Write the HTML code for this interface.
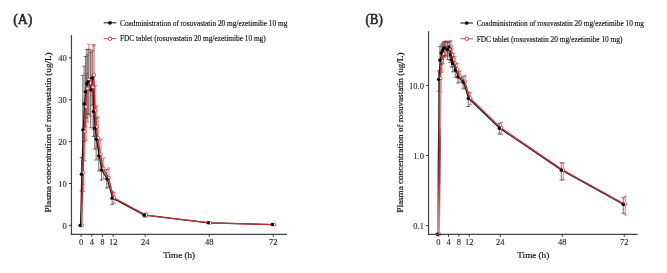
<!DOCTYPE html>
<html><head><meta charset="utf-8"><style>
html,body{margin:0;padding:0;background:#fff;width:667px;height:273px;overflow:hidden}
svg{display:block;will-change:transform}
text{font-family:"Liberation Serif",serif;fill:#222}
.tk{font-size:8.5px;fill:#1a1a1a;stroke:#1a1a1a;stroke-width:0.1px}
.lg{font-size:7.33px;fill:#151515;stroke:#151515;stroke-width:0.15px}
.at{font-size:9.15px;fill:#151515;stroke:#151515;stroke-width:0.2px}
.pl{font-size:14px;font-weight:normal;fill:#2a2a2a;stroke:#2a2a2a;stroke-width:0.6px}
</style></head><body>
<svg width="667" height="273" viewBox="0 0 667 273">
<defs>
<linearGradient id="gb" gradientUnits="userSpaceOnUse" x1="0" y1="234" x2="0" y2="80"><stop offset="0" stop-color="#3a1015" stop-opacity="0"/><stop offset="0.3" stop-color="#3a1015" stop-opacity="0.05"/><stop offset="0.45" stop-color="#3a1015" stop-opacity="0.5"/><stop offset="0.6" stop-color="#3a1015" stop-opacity="0.85"/><stop offset="1" stop-color="#3a1015" stop-opacity="0.85"/></linearGradient>
<linearGradient id="gr" gradientUnits="userSpaceOnUse" x1="0" y1="234" x2="0" y2="80"><stop offset="0" stop-color="#dc9096"/><stop offset="0.15" stop-color="#c8707a"/><stop offset="0.35" stop-color="#9a3a44"/><stop offset="0.55" stop-color="#963842"/><stop offset="0.72" stop-color="#d08a90"/><stop offset="1" stop-color="#d89095"/></linearGradient>
</defs>
<line x1="83.53" y1="153.75" x2="83.53" y2="191.46" stroke="rgba(212,60,68,0.5)" stroke-width="1.4"/>
<line x1="81.73" y1="153.75" x2="85.33" y2="153.75" stroke="rgba(212,60,68,0.5)" stroke-width="1.4"/>
<line x1="81.73" y1="191.46" x2="85.33" y2="191.46" stroke="rgba(212,60,68,0.5)" stroke-width="1.4"/>
<line x1="84.87" y1="102.21" x2="84.87" y2="160.87" stroke="rgba(212,60,68,0.5)" stroke-width="1.4"/>
<line x1="83.07" y1="102.21" x2="86.67" y2="102.21" stroke="rgba(212,60,68,0.5)" stroke-width="1.4"/>
<line x1="83.07" y1="160.87" x2="86.67" y2="160.87" stroke="rgba(212,60,68,0.5)" stroke-width="1.4"/>
<line x1="86.20" y1="73.30" x2="86.20" y2="140.34" stroke="rgba(212,60,68,0.5)" stroke-width="1.4"/>
<line x1="84.40" y1="73.30" x2="88.00" y2="73.30" stroke="rgba(212,60,68,0.5)" stroke-width="1.4"/>
<line x1="84.40" y1="140.34" x2="88.00" y2="140.34" stroke="rgba(212,60,68,0.5)" stroke-width="1.4"/>
<line x1="87.54" y1="54.87" x2="87.54" y2="121.91" stroke="rgba(212,60,68,0.5)" stroke-width="1.4"/>
<line x1="85.74" y1="54.87" x2="89.34" y2="54.87" stroke="rgba(212,60,68,0.5)" stroke-width="1.4"/>
<line x1="85.74" y1="121.91" x2="89.34" y2="121.91" stroke="rgba(212,60,68,0.5)" stroke-width="1.4"/>
<line x1="88.87" y1="44.39" x2="88.87" y2="114.78" stroke="rgba(212,60,68,0.5)" stroke-width="1.4"/>
<line x1="87.07" y1="44.39" x2="90.67" y2="44.39" stroke="rgba(212,60,68,0.5)" stroke-width="1.4"/>
<line x1="87.07" y1="114.78" x2="90.67" y2="114.78" stroke="rgba(212,60,68,0.5)" stroke-width="1.4"/>
<line x1="90.21" y1="49.42" x2="90.21" y2="116.46" stroke="rgba(212,60,68,0.5)" stroke-width="1.4"/>
<line x1="88.41" y1="49.42" x2="92.01" y2="49.42" stroke="rgba(212,60,68,0.5)" stroke-width="1.4"/>
<line x1="88.41" y1="116.46" x2="92.01" y2="116.46" stroke="rgba(212,60,68,0.5)" stroke-width="1.4"/>
<line x1="92.88" y1="44.81" x2="92.88" y2="129.45" stroke="rgba(212,60,68,0.5)" stroke-width="1.4"/>
<line x1="91.08" y1="44.81" x2="94.68" y2="44.81" stroke="rgba(212,60,68,0.5)" stroke-width="1.4"/>
<line x1="91.08" y1="129.45" x2="94.68" y2="129.45" stroke="rgba(212,60,68,0.5)" stroke-width="1.4"/>
<line x1="94.21" y1="44.81" x2="94.21" y2="105.15" stroke="rgba(212,60,68,0.5)" stroke-width="1.4"/>
<line x1="92.41" y1="44.81" x2="96.01" y2="44.81" stroke="rgba(212,60,68,0.5)" stroke-width="1.4"/>
<line x1="92.41" y1="105.15" x2="96.01" y2="105.15" stroke="rgba(212,60,68,0.5)" stroke-width="1.4"/>
<line x1="95.55" y1="85.45" x2="95.55" y2="135.73" stroke="rgba(212,60,68,0.5)" stroke-width="1.4"/>
<line x1="93.75" y1="85.45" x2="97.35" y2="85.45" stroke="rgba(212,60,68,0.5)" stroke-width="1.4"/>
<line x1="93.75" y1="135.73" x2="97.35" y2="135.73" stroke="rgba(212,60,68,0.5)" stroke-width="1.4"/>
<line x1="96.88" y1="105.98" x2="96.88" y2="147.88" stroke="rgba(212,60,68,0.5)" stroke-width="1.4"/>
<line x1="95.08" y1="105.98" x2="98.68" y2="105.98" stroke="rgba(212,60,68,0.5)" stroke-width="1.4"/>
<line x1="95.08" y1="147.88" x2="98.68" y2="147.88" stroke="rgba(212,60,68,0.5)" stroke-width="1.4"/>
<line x1="98.22" y1="116.88" x2="98.22" y2="158.78" stroke="rgba(212,60,68,0.5)" stroke-width="1.4"/>
<line x1="96.42" y1="116.88" x2="100.02" y2="116.88" stroke="rgba(212,60,68,0.5)" stroke-width="1.4"/>
<line x1="96.42" y1="158.78" x2="100.02" y2="158.78" stroke="rgba(212,60,68,0.5)" stroke-width="1.4"/>
<line x1="100.89" y1="139.09" x2="100.89" y2="169.25" stroke="rgba(212,60,68,0.5)" stroke-width="1.4"/>
<line x1="99.09" y1="139.09" x2="102.69" y2="139.09" stroke="rgba(212,60,68,0.5)" stroke-width="1.4"/>
<line x1="99.09" y1="169.25" x2="102.69" y2="169.25" stroke="rgba(212,60,68,0.5)" stroke-width="1.4"/>
<line x1="103.56" y1="157.94" x2="103.56" y2="178.89" stroke="rgba(212,60,68,0.5)" stroke-width="1.4"/>
<line x1="101.76" y1="157.94" x2="105.36" y2="157.94" stroke="rgba(212,60,68,0.5)" stroke-width="1.4"/>
<line x1="101.76" y1="178.89" x2="105.36" y2="178.89" stroke="rgba(212,60,68,0.5)" stroke-width="1.4"/>
<line x1="108.90" y1="168.00" x2="108.90" y2="187.27" stroke="rgba(212,60,68,0.5)" stroke-width="1.4"/>
<line x1="107.10" y1="168.00" x2="110.70" y2="168.00" stroke="rgba(212,60,68,0.5)" stroke-width="1.4"/>
<line x1="107.10" y1="187.27" x2="110.70" y2="187.27" stroke="rgba(212,60,68,0.5)" stroke-width="1.4"/>
<line x1="114.24" y1="192.30" x2="114.24" y2="203.19" stroke="rgba(212,60,68,0.5)" stroke-width="1.4"/>
<line x1="112.44" y1="192.30" x2="116.04" y2="192.30" stroke="rgba(212,60,68,0.5)" stroke-width="1.4"/>
<line x1="112.44" y1="203.19" x2="116.04" y2="203.19" stroke="rgba(212,60,68,0.5)" stroke-width="1.4"/>
<line x1="146.28" y1="213.00" x2="146.28" y2="217.02" stroke="rgba(212,60,68,0.5)" stroke-width="1.4"/>
<line x1="144.48" y1="213.00" x2="148.08" y2="213.00" stroke="rgba(212,60,68,0.5)" stroke-width="1.4"/>
<line x1="144.48" y1="217.02" x2="148.08" y2="217.02" stroke="rgba(212,60,68,0.5)" stroke-width="1.4"/>
<line x1="210.36" y1="222.09" x2="210.36" y2="223.51" stroke="rgba(212,60,68,0.5)" stroke-width="1.4"/>
<line x1="208.56" y1="222.09" x2="212.16" y2="222.09" stroke="rgba(212,60,68,0.5)" stroke-width="1.4"/>
<line x1="208.56" y1="223.51" x2="212.16" y2="223.51" stroke="rgba(212,60,68,0.5)" stroke-width="1.4"/>
<line x1="274.44" y1="224.30" x2="274.44" y2="224.81" stroke="rgba(212,60,68,0.5)" stroke-width="1.4"/>
<line x1="272.64" y1="224.30" x2="276.24" y2="224.30" stroke="rgba(212,60,68,0.5)" stroke-width="1.4"/>
<line x1="272.64" y1="224.81" x2="276.24" y2="224.81" stroke="rgba(212,60,68,0.5)" stroke-width="1.4"/>
<line x1="81.43" y1="157.52" x2="81.43" y2="191.04" stroke="rgba(70,70,70,0.75)" stroke-width="1.0"/>
<line x1="79.63" y1="157.52" x2="83.23" y2="157.52" stroke="rgba(70,70,70,0.75)" stroke-width="1.0"/>
<line x1="79.63" y1="191.04" x2="83.23" y2="191.04" stroke="rgba(70,70,70,0.75)" stroke-width="1.0"/>
<line x1="82.77" y1="75.40" x2="82.77" y2="184.34" stroke="rgba(70,70,70,0.75)" stroke-width="1.0"/>
<line x1="80.97" y1="75.40" x2="84.57" y2="75.40" stroke="rgba(70,70,70,0.75)" stroke-width="1.0"/>
<line x1="80.97" y1="184.34" x2="84.57" y2="184.34" stroke="rgba(70,70,70,0.75)" stroke-width="1.0"/>
<line x1="84.10" y1="66.18" x2="84.10" y2="141.60" stroke="rgba(70,70,70,0.75)" stroke-width="1.0"/>
<line x1="82.30" y1="66.18" x2="85.90" y2="66.18" stroke="rgba(70,70,70,0.75)" stroke-width="1.0"/>
<line x1="82.30" y1="141.60" x2="85.90" y2="141.60" stroke="rgba(70,70,70,0.75)" stroke-width="1.0"/>
<line x1="85.44" y1="56.54" x2="85.44" y2="126.94" stroke="rgba(70,70,70,0.75)" stroke-width="1.0"/>
<line x1="83.64" y1="56.54" x2="87.24" y2="56.54" stroke="rgba(70,70,70,0.75)" stroke-width="1.0"/>
<line x1="83.64" y1="126.94" x2="87.24" y2="126.94" stroke="rgba(70,70,70,0.75)" stroke-width="1.0"/>
<line x1="86.77" y1="49.42" x2="86.77" y2="118.14" stroke="rgba(70,70,70,0.75)" stroke-width="1.0"/>
<line x1="84.97" y1="49.42" x2="88.57" y2="49.42" stroke="rgba(70,70,70,0.75)" stroke-width="1.0"/>
<line x1="84.97" y1="118.14" x2="88.57" y2="118.14" stroke="rgba(70,70,70,0.75)" stroke-width="1.0"/>
<line x1="88.11" y1="49.42" x2="88.11" y2="113.95" stroke="rgba(70,70,70,0.75)" stroke-width="1.0"/>
<line x1="86.31" y1="49.42" x2="89.91" y2="49.42" stroke="rgba(70,70,70,0.75)" stroke-width="1.0"/>
<line x1="86.31" y1="113.95" x2="89.91" y2="113.95" stroke="rgba(70,70,70,0.75)" stroke-width="1.0"/>
<line x1="90.78" y1="52.35" x2="90.78" y2="127.77" stroke="rgba(70,70,70,0.75)" stroke-width="1.0"/>
<line x1="88.98" y1="52.35" x2="92.58" y2="52.35" stroke="rgba(70,70,70,0.75)" stroke-width="1.0"/>
<line x1="88.98" y1="127.77" x2="92.58" y2="127.77" stroke="rgba(70,70,70,0.75)" stroke-width="1.0"/>
<line x1="92.11" y1="50.68" x2="92.11" y2="105.15" stroke="rgba(70,70,70,0.75)" stroke-width="1.0"/>
<line x1="90.31" y1="50.68" x2="93.91" y2="50.68" stroke="rgba(70,70,70,0.75)" stroke-width="1.0"/>
<line x1="90.31" y1="105.15" x2="93.91" y2="105.15" stroke="rgba(70,70,70,0.75)" stroke-width="1.0"/>
<line x1="93.45" y1="86.29" x2="93.45" y2="136.57" stroke="rgba(70,70,70,0.75)" stroke-width="1.0"/>
<line x1="91.65" y1="86.29" x2="95.25" y2="86.29" stroke="rgba(70,70,70,0.75)" stroke-width="1.0"/>
<line x1="91.65" y1="136.57" x2="95.25" y2="136.57" stroke="rgba(70,70,70,0.75)" stroke-width="1.0"/>
<line x1="94.78" y1="107.24" x2="94.78" y2="149.14" stroke="rgba(70,70,70,0.75)" stroke-width="1.0"/>
<line x1="92.98" y1="107.24" x2="96.58" y2="107.24" stroke="rgba(70,70,70,0.75)" stroke-width="1.0"/>
<line x1="92.98" y1="149.14" x2="96.58" y2="149.14" stroke="rgba(70,70,70,0.75)" stroke-width="1.0"/>
<line x1="96.12" y1="118.14" x2="96.12" y2="160.04" stroke="rgba(70,70,70,0.75)" stroke-width="1.0"/>
<line x1="94.32" y1="118.14" x2="97.92" y2="118.14" stroke="rgba(70,70,70,0.75)" stroke-width="1.0"/>
<line x1="94.32" y1="160.04" x2="97.92" y2="160.04" stroke="rgba(70,70,70,0.75)" stroke-width="1.0"/>
<line x1="98.79" y1="140.76" x2="98.79" y2="170.93" stroke="rgba(70,70,70,0.75)" stroke-width="1.0"/>
<line x1="96.99" y1="140.76" x2="100.59" y2="140.76" stroke="rgba(70,70,70,0.75)" stroke-width="1.0"/>
<line x1="96.99" y1="170.93" x2="100.59" y2="170.93" stroke="rgba(70,70,70,0.75)" stroke-width="1.0"/>
<line x1="101.46" y1="160.04" x2="101.46" y2="180.15" stroke="rgba(70,70,70,0.75)" stroke-width="1.0"/>
<line x1="99.66" y1="160.04" x2="103.26" y2="160.04" stroke="rgba(70,70,70,0.75)" stroke-width="1.0"/>
<line x1="99.66" y1="180.15" x2="103.26" y2="180.15" stroke="rgba(70,70,70,0.75)" stroke-width="1.0"/>
<line x1="106.80" y1="169.67" x2="106.80" y2="188.11" stroke="rgba(70,70,70,0.75)" stroke-width="1.0"/>
<line x1="105.00" y1="169.67" x2="108.60" y2="169.67" stroke="rgba(70,70,70,0.75)" stroke-width="1.0"/>
<line x1="105.00" y1="188.11" x2="108.60" y2="188.11" stroke="rgba(70,70,70,0.75)" stroke-width="1.0"/>
<line x1="112.14" y1="191.88" x2="112.14" y2="204.45" stroke="rgba(70,70,70,0.75)" stroke-width="1.0"/>
<line x1="110.34" y1="191.88" x2="113.94" y2="191.88" stroke="rgba(70,70,70,0.75)" stroke-width="1.0"/>
<line x1="110.34" y1="204.45" x2="113.94" y2="204.45" stroke="rgba(70,70,70,0.75)" stroke-width="1.0"/>
<line x1="144.18" y1="213.37" x2="144.18" y2="216.89" stroke="rgba(70,70,70,0.75)" stroke-width="1.0"/>
<line x1="142.38" y1="213.37" x2="145.98" y2="213.37" stroke="rgba(70,70,70,0.75)" stroke-width="1.0"/>
<line x1="142.38" y1="216.89" x2="145.98" y2="216.89" stroke="rgba(70,70,70,0.75)" stroke-width="1.0"/>
<line x1="208.26" y1="222.11" x2="208.26" y2="223.54" stroke="rgba(70,70,70,0.75)" stroke-width="1.0"/>
<line x1="206.46" y1="222.11" x2="210.06" y2="222.11" stroke="rgba(70,70,70,0.75)" stroke-width="1.0"/>
<line x1="206.46" y1="223.54" x2="210.06" y2="223.54" stroke="rgba(70,70,70,0.75)" stroke-width="1.0"/>
<line x1="272.34" y1="224.35" x2="272.34" y2="224.77" stroke="rgba(70,70,70,0.75)" stroke-width="1.0"/>
<line x1="270.54" y1="224.35" x2="274.14" y2="224.35" stroke="rgba(70,70,70,0.75)" stroke-width="1.0"/>
<line x1="270.54" y1="224.77" x2="274.14" y2="224.77" stroke="rgba(70,70,70,0.75)" stroke-width="1.0"/>
<polyline points="80.50,225.40 81.83,174.28 83.17,129.87 84.50,103.89 85.84,91.74 87.17,83.78 88.51,81.68 91.18,90.06 92.52,77.91 93.85,111.43 95.19,128.19 96.52,139.09 99.19,155.85 101.86,170.09 107.20,178.89 112.54,198.16 144.58,215.13 208.66,222.82 272.74,224.56" fill="none" stroke="#1a1a1a" stroke-width="1.2" stroke-linejoin="round"/>
<polyline points="81.70,225.40 83.03,172.61 84.37,131.54 85.70,106.82 87.04,88.39 88.37,79.59 89.71,82.94 92.38,87.13 93.71,74.98 95.05,110.59 96.38,126.94 97.72,137.83 100.39,154.17 103.06,168.42 108.40,177.63 113.74,197.75 145.78,215.01 209.86,222.80 273.94,224.55" fill="none" stroke="#c0303a" stroke-width="1.25" stroke-linejoin="round"/>
<circle cx="82.20" cy="225.40" r="1.45" fill="#fff" stroke="#c0303a" stroke-width="0.8"/>
<circle cx="83.53" cy="172.61" r="1.45" fill="#fff" stroke="#c0303a" stroke-width="0.8"/>
<circle cx="84.87" cy="131.54" r="1.45" fill="#fff" stroke="#c0303a" stroke-width="0.8"/>
<circle cx="86.20" cy="106.82" r="1.45" fill="#fff" stroke="#c0303a" stroke-width="0.8"/>
<circle cx="87.54" cy="88.39" r="1.45" fill="#fff" stroke="#c0303a" stroke-width="0.8"/>
<circle cx="88.87" cy="79.59" r="1.45" fill="#fff" stroke="#c0303a" stroke-width="0.8"/>
<circle cx="90.21" cy="82.94" r="1.45" fill="#fff" stroke="#c0303a" stroke-width="0.8"/>
<circle cx="92.88" cy="87.13" r="1.45" fill="#fff" stroke="#c0303a" stroke-width="0.8"/>
<circle cx="94.21" cy="74.98" r="1.45" fill="#fff" stroke="#c0303a" stroke-width="0.8"/>
<circle cx="95.55" cy="110.59" r="1.45" fill="#fff" stroke="#c0303a" stroke-width="0.8"/>
<circle cx="96.88" cy="126.94" r="1.45" fill="#fff" stroke="#c0303a" stroke-width="0.8"/>
<circle cx="98.22" cy="137.83" r="1.45" fill="#fff" stroke="#c0303a" stroke-width="0.8"/>
<circle cx="100.89" cy="154.17" r="1.45" fill="#fff" stroke="#c0303a" stroke-width="0.8"/>
<circle cx="103.56" cy="168.42" r="1.45" fill="#fff" stroke="#c0303a" stroke-width="0.8"/>
<circle cx="108.90" cy="177.63" r="1.45" fill="#fff" stroke="#c0303a" stroke-width="0.8"/>
<circle cx="114.24" cy="197.75" r="1.45" fill="#fff" stroke="#c0303a" stroke-width="0.8"/>
<circle cx="146.28" cy="215.01" r="1.45" fill="#fff" stroke="#c0303a" stroke-width="0.8"/>
<circle cx="210.36" cy="222.80" r="1.45" fill="#fff" stroke="#c0303a" stroke-width="0.8"/>
<circle cx="274.44" cy="224.55" r="1.45" fill="#fff" stroke="#c0303a" stroke-width="0.8"/>
<circle cx="80.10" cy="225.40" r="1.7" fill="#000"/>
<circle cx="81.43" cy="174.28" r="1.7" fill="#000"/>
<circle cx="82.77" cy="129.87" r="1.7" fill="#000"/>
<circle cx="84.10" cy="103.89" r="1.7" fill="#000"/>
<circle cx="85.44" cy="91.74" r="1.7" fill="#000"/>
<circle cx="86.77" cy="83.78" r="1.7" fill="#000"/>
<circle cx="88.11" cy="81.68" r="1.7" fill="#000"/>
<circle cx="90.78" cy="90.06" r="1.7" fill="#000"/>
<circle cx="92.11" cy="77.91" r="1.7" fill="#000"/>
<circle cx="93.45" cy="111.43" r="1.7" fill="#000"/>
<circle cx="94.78" cy="128.19" r="1.7" fill="#000"/>
<circle cx="96.12" cy="139.09" r="1.7" fill="#000"/>
<circle cx="98.79" cy="155.85" r="1.7" fill="#000"/>
<circle cx="101.46" cy="170.09" r="1.7" fill="#000"/>
<circle cx="106.80" cy="178.89" r="1.7" fill="#000"/>
<circle cx="112.14" cy="198.16" r="1.7" fill="#000"/>
<circle cx="144.18" cy="215.13" r="1.7" fill="#000"/>
<circle cx="208.26" cy="222.82" r="1.7" fill="#000"/>
<circle cx="272.34" cy="224.56" r="1.7" fill="#000"/>
<line x1="71.45" y1="35.1" x2="71.45" y2="234.9" stroke="#444" stroke-width="1.2"/>
<line x1="70.85000000000001" y1="234.3" x2="287.0" y2="234.3" stroke="#444" stroke-width="1.2"/>
<line x1="68.95" y1="225.40" x2="71.45" y2="225.40" stroke="#333" stroke-width="1"/>
<text x="66.85" y="228.80" text-anchor="end" class="tk">0</text>
<line x1="68.95" y1="183.50" x2="71.45" y2="183.50" stroke="#333" stroke-width="1"/>
<text x="66.85" y="186.90" text-anchor="end" class="tk">10</text>
<line x1="68.95" y1="141.60" x2="71.45" y2="141.60" stroke="#333" stroke-width="1"/>
<text x="66.85" y="145.00" text-anchor="end" class="tk">20</text>
<line x1="68.95" y1="99.70" x2="71.45" y2="99.70" stroke="#333" stroke-width="1"/>
<text x="66.85" y="103.10" text-anchor="end" class="tk">30</text>
<line x1="68.95" y1="57.80" x2="71.45" y2="57.80" stroke="#333" stroke-width="1"/>
<text x="66.85" y="61.20" text-anchor="end" class="tk">40</text>
<line x1="81.10" y1="234.3" x2="81.10" y2="236.8" stroke="#333" stroke-width="1"/>
<text x="81.10" y="245.0" text-anchor="middle" class="tk">0</text>
<line x1="91.78" y1="234.3" x2="91.78" y2="236.8" stroke="#333" stroke-width="1"/>
<text x="91.78" y="245.0" text-anchor="middle" class="tk">4</text>
<line x1="102.46" y1="234.3" x2="102.46" y2="236.8" stroke="#333" stroke-width="1"/>
<text x="102.46" y="245.0" text-anchor="middle" class="tk">8</text>
<line x1="113.14" y1="234.3" x2="113.14" y2="236.8" stroke="#333" stroke-width="1"/>
<text x="113.14" y="245.0" text-anchor="middle" class="tk">12</text>
<line x1="145.18" y1="234.3" x2="145.18" y2="236.8" stroke="#333" stroke-width="1"/>
<text x="145.18" y="245.0" text-anchor="middle" class="tk">24</text>
<line x1="209.26" y1="234.3" x2="209.26" y2="236.8" stroke="#333" stroke-width="1"/>
<text x="209.26" y="245.0" text-anchor="middle" class="tk">48</text>
<line x1="273.34" y1="234.3" x2="273.34" y2="236.8" stroke="#333" stroke-width="1"/>
<text x="273.34" y="245.0" text-anchor="middle" class="tk">72</text>
<line x1="440.69" y1="69.07" x2="440.69" y2="91.82" stroke="rgba(212,60,68,0.5)" stroke-width="1.4"/>
<line x1="438.89" y1="69.07" x2="442.49" y2="69.07" stroke="rgba(212,60,68,0.5)" stroke-width="1.4"/>
<line x1="438.89" y1="91.82" x2="442.49" y2="91.82" stroke="rgba(212,60,68,0.5)" stroke-width="1.4"/>
<line x1="441.98" y1="52.57" x2="441.98" y2="72.25" stroke="rgba(212,60,68,0.5)" stroke-width="1.4"/>
<line x1="440.18" y1="52.57" x2="443.78" y2="52.57" stroke="rgba(212,60,68,0.5)" stroke-width="1.4"/>
<line x1="440.18" y1="72.25" x2="443.78" y2="72.25" stroke="rgba(212,60,68,0.5)" stroke-width="1.4"/>
<line x1="443.27" y1="46.15" x2="443.27" y2="63.84" stroke="rgba(212,60,68,0.5)" stroke-width="1.4"/>
<line x1="441.47" y1="46.15" x2="445.07" y2="46.15" stroke="rgba(212,60,68,0.5)" stroke-width="1.4"/>
<line x1="441.47" y1="63.84" x2="445.07" y2="63.84" stroke="rgba(212,60,68,0.5)" stroke-width="1.4"/>
<line x1="444.57" y1="42.67" x2="444.57" y2="57.87" stroke="rgba(212,60,68,0.5)" stroke-width="1.4"/>
<line x1="442.77" y1="42.67" x2="446.37" y2="42.67" stroke="rgba(212,60,68,0.5)" stroke-width="1.4"/>
<line x1="442.77" y1="57.87" x2="446.37" y2="57.87" stroke="rgba(212,60,68,0.5)" stroke-width="1.4"/>
<line x1="445.86" y1="40.85" x2="445.86" y2="55.85" stroke="rgba(212,60,68,0.5)" stroke-width="1.4"/>
<line x1="444.06" y1="40.85" x2="447.66" y2="40.85" stroke="rgba(212,60,68,0.5)" stroke-width="1.4"/>
<line x1="444.06" y1="55.85" x2="447.66" y2="55.85" stroke="rgba(212,60,68,0.5)" stroke-width="1.4"/>
<line x1="447.15" y1="41.71" x2="447.15" y2="56.31" stroke="rgba(212,60,68,0.5)" stroke-width="1.4"/>
<line x1="445.35" y1="41.71" x2="448.95" y2="41.71" stroke="rgba(212,60,68,0.5)" stroke-width="1.4"/>
<line x1="445.35" y1="56.31" x2="448.95" y2="56.31" stroke="rgba(212,60,68,0.5)" stroke-width="1.4"/>
<line x1="449.73" y1="40.92" x2="449.73" y2="60.18" stroke="rgba(212,60,68,0.5)" stroke-width="1.4"/>
<line x1="447.93" y1="40.92" x2="451.53" y2="40.92" stroke="rgba(212,60,68,0.5)" stroke-width="1.4"/>
<line x1="447.93" y1="60.18" x2="451.53" y2="60.18" stroke="rgba(212,60,68,0.5)" stroke-width="1.4"/>
<line x1="451.02" y1="40.92" x2="451.02" y2="53.30" stroke="rgba(212,60,68,0.5)" stroke-width="1.4"/>
<line x1="449.22" y1="40.92" x2="452.82" y2="40.92" stroke="rgba(212,60,68,0.5)" stroke-width="1.4"/>
<line x1="449.22" y1="53.30" x2="452.82" y2="53.30" stroke="rgba(212,60,68,0.5)" stroke-width="1.4"/>
<line x1="452.32" y1="48.69" x2="452.32" y2="62.24" stroke="rgba(212,60,68,0.5)" stroke-width="1.4"/>
<line x1="450.52" y1="48.69" x2="454.12" y2="48.69" stroke="rgba(212,60,68,0.5)" stroke-width="1.4"/>
<line x1="450.52" y1="62.24" x2="454.12" y2="62.24" stroke="rgba(212,60,68,0.5)" stroke-width="1.4"/>
<line x1="453.61" y1="53.52" x2="453.61" y2="66.67" stroke="rgba(212,60,68,0.5)" stroke-width="1.4"/>
<line x1="451.81" y1="53.52" x2="455.41" y2="53.52" stroke="rgba(212,60,68,0.5)" stroke-width="1.4"/>
<line x1="451.81" y1="66.67" x2="455.41" y2="66.67" stroke="rgba(212,60,68,0.5)" stroke-width="1.4"/>
<line x1="454.90" y1="56.43" x2="454.90" y2="71.28" stroke="rgba(212,60,68,0.5)" stroke-width="1.4"/>
<line x1="453.10" y1="56.43" x2="456.70" y2="56.43" stroke="rgba(212,60,68,0.5)" stroke-width="1.4"/>
<line x1="453.10" y1="71.28" x2="456.70" y2="71.28" stroke="rgba(212,60,68,0.5)" stroke-width="1.4"/>
<line x1="457.48" y1="63.40" x2="457.48" y2="76.49" stroke="rgba(212,60,68,0.5)" stroke-width="1.4"/>
<line x1="455.68" y1="63.40" x2="459.28" y2="63.40" stroke="rgba(212,60,68,0.5)" stroke-width="1.4"/>
<line x1="455.68" y1="76.49" x2="459.28" y2="76.49" stroke="rgba(212,60,68,0.5)" stroke-width="1.4"/>
<line x1="460.06" y1="70.90" x2="460.06" y2="82.22" stroke="rgba(212,60,68,0.5)" stroke-width="1.4"/>
<line x1="458.26" y1="70.90" x2="461.86" y2="70.90" stroke="rgba(212,60,68,0.5)" stroke-width="1.4"/>
<line x1="458.26" y1="82.22" x2="461.86" y2="82.22" stroke="rgba(212,60,68,0.5)" stroke-width="1.4"/>
<line x1="465.23" y1="75.82" x2="465.23" y2="88.27" stroke="rgba(212,60,68,0.5)" stroke-width="1.4"/>
<line x1="463.43" y1="75.82" x2="467.03" y2="75.82" stroke="rgba(212,60,68,0.5)" stroke-width="1.4"/>
<line x1="463.43" y1="88.27" x2="467.03" y2="88.27" stroke="rgba(212,60,68,0.5)" stroke-width="1.4"/>
<line x1="470.40" y1="92.58" x2="470.40" y2="104.73" stroke="rgba(212,60,68,0.5)" stroke-width="1.4"/>
<line x1="468.60" y1="92.58" x2="472.20" y2="92.58" stroke="rgba(212,60,68,0.5)" stroke-width="1.4"/>
<line x1="468.60" y1="104.73" x2="472.20" y2="104.73" stroke="rgba(212,60,68,0.5)" stroke-width="1.4"/>
<line x1="501.39" y1="122.46" x2="501.39" y2="134.40" stroke="rgba(212,60,68,0.5)" stroke-width="1.4"/>
<line x1="499.59" y1="122.46" x2="503.19" y2="122.46" stroke="rgba(212,60,68,0.5)" stroke-width="1.4"/>
<line x1="499.59" y1="134.40" x2="503.19" y2="134.40" stroke="rgba(212,60,68,0.5)" stroke-width="1.4"/>
<line x1="563.38" y1="162.68" x2="563.38" y2="179.81" stroke="rgba(212,60,68,0.5)" stroke-width="1.4"/>
<line x1="561.58" y1="162.68" x2="565.18" y2="162.68" stroke="rgba(212,60,68,0.5)" stroke-width="1.4"/>
<line x1="561.58" y1="179.81" x2="565.18" y2="179.81" stroke="rgba(212,60,68,0.5)" stroke-width="1.4"/>
<line x1="625.38" y1="196.28" x2="625.38" y2="214.92" stroke="rgba(212,60,68,0.5)" stroke-width="1.4"/>
<line x1="623.58" y1="196.28" x2="627.18" y2="196.28" stroke="rgba(212,60,68,0.5)" stroke-width="1.4"/>
<line x1="623.58" y1="214.92" x2="627.18" y2="214.92" stroke="rgba(212,60,68,0.5)" stroke-width="1.4"/>
<line x1="438.59" y1="70.71" x2="438.59" y2="91.44" stroke="rgba(70,70,70,0.75)" stroke-width="1.0"/>
<line x1="436.79" y1="70.71" x2="440.39" y2="70.71" stroke="rgba(70,70,70,0.75)" stroke-width="1.0"/>
<line x1="436.79" y1="91.44" x2="440.39" y2="91.44" stroke="rgba(70,70,70,0.75)" stroke-width="1.0"/>
<line x1="439.88" y1="46.57" x2="439.88" y2="86.02" stroke="rgba(70,70,70,0.75)" stroke-width="1.0"/>
<line x1="438.08" y1="46.57" x2="441.68" y2="46.57" stroke="rgba(70,70,70,0.75)" stroke-width="1.0"/>
<line x1="438.08" y1="86.02" x2="441.68" y2="86.02" stroke="rgba(70,70,70,0.75)" stroke-width="1.0"/>
<line x1="441.17" y1="44.76" x2="441.17" y2="64.30" stroke="rgba(70,70,70,0.75)" stroke-width="1.0"/>
<line x1="439.37" y1="44.76" x2="442.97" y2="44.76" stroke="rgba(70,70,70,0.75)" stroke-width="1.0"/>
<line x1="439.37" y1="64.30" x2="442.97" y2="64.30" stroke="rgba(70,70,70,0.75)" stroke-width="1.0"/>
<line x1="442.47" y1="42.97" x2="442.47" y2="59.39" stroke="rgba(70,70,70,0.75)" stroke-width="1.0"/>
<line x1="440.67" y1="42.97" x2="444.27" y2="42.97" stroke="rgba(70,70,70,0.75)" stroke-width="1.0"/>
<line x1="440.67" y1="59.39" x2="444.27" y2="59.39" stroke="rgba(70,70,70,0.75)" stroke-width="1.0"/>
<line x1="443.76" y1="41.71" x2="443.76" y2="56.78" stroke="rgba(70,70,70,0.75)" stroke-width="1.0"/>
<line x1="441.96" y1="41.71" x2="445.56" y2="41.71" stroke="rgba(70,70,70,0.75)" stroke-width="1.0"/>
<line x1="441.96" y1="56.78" x2="445.56" y2="56.78" stroke="rgba(70,70,70,0.75)" stroke-width="1.0"/>
<line x1="445.05" y1="41.71" x2="445.05" y2="55.62" stroke="rgba(70,70,70,0.75)" stroke-width="1.0"/>
<line x1="443.25" y1="41.71" x2="446.85" y2="41.71" stroke="rgba(70,70,70,0.75)" stroke-width="1.0"/>
<line x1="443.25" y1="55.62" x2="446.85" y2="55.62" stroke="rgba(70,70,70,0.75)" stroke-width="1.0"/>
<line x1="447.63" y1="42.22" x2="447.63" y2="59.65" stroke="rgba(70,70,70,0.75)" stroke-width="1.0"/>
<line x1="445.83" y1="42.22" x2="449.43" y2="42.22" stroke="rgba(70,70,70,0.75)" stroke-width="1.0"/>
<line x1="445.83" y1="59.65" x2="449.43" y2="59.65" stroke="rgba(70,70,70,0.75)" stroke-width="1.0"/>
<line x1="448.92" y1="41.93" x2="448.92" y2="53.30" stroke="rgba(70,70,70,0.75)" stroke-width="1.0"/>
<line x1="447.12" y1="41.93" x2="450.72" y2="41.93" stroke="rgba(70,70,70,0.75)" stroke-width="1.0"/>
<line x1="447.12" y1="53.30" x2="450.72" y2="53.30" stroke="rgba(70,70,70,0.75)" stroke-width="1.0"/>
<line x1="450.22" y1="48.87" x2="450.22" y2="62.52" stroke="rgba(70,70,70,0.75)" stroke-width="1.0"/>
<line x1="448.42" y1="48.87" x2="452.02" y2="48.87" stroke="rgba(70,70,70,0.75)" stroke-width="1.0"/>
<line x1="448.42" y1="62.52" x2="452.02" y2="62.52" stroke="rgba(70,70,70,0.75)" stroke-width="1.0"/>
<line x1="451.51" y1="53.84" x2="451.51" y2="67.17" stroke="rgba(70,70,70,0.75)" stroke-width="1.0"/>
<line x1="449.71" y1="53.84" x2="453.31" y2="53.84" stroke="rgba(70,70,70,0.75)" stroke-width="1.0"/>
<line x1="449.71" y1="67.17" x2="453.31" y2="67.17" stroke="rgba(70,70,70,0.75)" stroke-width="1.0"/>
<line x1="452.80" y1="56.78" x2="452.80" y2="71.86" stroke="rgba(70,70,70,0.75)" stroke-width="1.0"/>
<line x1="451.00" y1="56.78" x2="454.60" y2="56.78" stroke="rgba(70,70,70,0.75)" stroke-width="1.0"/>
<line x1="451.00" y1="71.86" x2="454.60" y2="71.86" stroke="rgba(70,70,70,0.75)" stroke-width="1.0"/>
<line x1="455.38" y1="63.99" x2="455.38" y2="77.41" stroke="rgba(70,70,70,0.75)" stroke-width="1.0"/>
<line x1="453.58" y1="63.99" x2="457.18" y2="63.99" stroke="rgba(70,70,70,0.75)" stroke-width="1.0"/>
<line x1="453.58" y1="77.41" x2="457.18" y2="77.41" stroke="rgba(70,70,70,0.75)" stroke-width="1.0"/>
<line x1="457.96" y1="71.86" x2="457.96" y2="83.06" stroke="rgba(70,70,70,0.75)" stroke-width="1.0"/>
<line x1="456.16" y1="71.86" x2="459.76" y2="71.86" stroke="rgba(70,70,70,0.75)" stroke-width="1.0"/>
<line x1="456.16" y1="83.06" x2="459.76" y2="83.06" stroke="rgba(70,70,70,0.75)" stroke-width="1.0"/>
<line x1="463.13" y1="76.72" x2="463.13" y2="88.95" stroke="rgba(70,70,70,0.75)" stroke-width="1.0"/>
<line x1="461.33" y1="76.72" x2="464.93" y2="76.72" stroke="rgba(70,70,70,0.75)" stroke-width="1.0"/>
<line x1="461.33" y1="88.95" x2="464.93" y2="88.95" stroke="rgba(70,70,70,0.75)" stroke-width="1.0"/>
<line x1="468.30" y1="92.19" x2="468.30" y2="106.50" stroke="rgba(70,70,70,0.75)" stroke-width="1.0"/>
<line x1="466.50" y1="92.19" x2="470.10" y2="92.19" stroke="rgba(70,70,70,0.75)" stroke-width="1.0"/>
<line x1="466.50" y1="106.50" x2="470.10" y2="106.50" stroke="rgba(70,70,70,0.75)" stroke-width="1.0"/>
<line x1="499.29" y1="123.40" x2="499.29" y2="133.94" stroke="rgba(70,70,70,0.75)" stroke-width="1.0"/>
<line x1="497.49" y1="123.40" x2="501.09" y2="123.40" stroke="rgba(70,70,70,0.75)" stroke-width="1.0"/>
<line x1="497.49" y1="133.94" x2="501.09" y2="133.94" stroke="rgba(70,70,70,0.75)" stroke-width="1.0"/>
<line x1="561.28" y1="162.87" x2="561.28" y2="180.15" stroke="rgba(70,70,70,0.75)" stroke-width="1.0"/>
<line x1="559.48" y1="162.87" x2="563.08" y2="162.87" stroke="rgba(70,70,70,0.75)" stroke-width="1.0"/>
<line x1="559.48" y1="180.15" x2="563.08" y2="180.15" stroke="rgba(70,70,70,0.75)" stroke-width="1.0"/>
<line x1="623.28" y1="197.70" x2="623.28" y2="213.26" stroke="rgba(70,70,70,0.75)" stroke-width="1.0"/>
<line x1="621.48" y1="197.70" x2="625.08" y2="197.70" stroke="rgba(70,70,70,0.75)" stroke-width="1.0"/>
<line x1="621.48" y1="213.26" x2="625.08" y2="213.26" stroke="rgba(70,70,70,0.75)" stroke-width="1.0"/>
<polyline points="438.99,79.35 440.28,60.31 441.57,52.99 442.87,50.08 444.16,48.32 445.45,47.88 448.03,49.70 449.32,47.09 450.62,54.94 451.91,59.78 453.20,63.40 455.78,69.97 458.36,76.95 463.53,82.22 468.70,98.51 499.69,128.22 561.68,170.30 623.68,204.50" fill="none" stroke="#1a1a1a" stroke-width="1.2" stroke-linejoin="round"/>
<line x1="438.40" y1="234.30" x2="440.19" y2="78.36" stroke="url(#gr)" stroke-width="3.0"/>
<line x1="437.70" y1="234.30" x2="439.19" y2="78.36" stroke="url(#gb)" stroke-width="1.3"/>
<polyline points="440.19,78.36 441.48,60.85 442.77,53.73 444.07,49.33 445.36,47.44 446.65,48.14 449.23,49.05 450.52,46.49 451.82,54.71 453.11,59.39 454.40,62.96 456.98,69.25 459.56,76.04 464.73,81.41 469.90,98.05 500.89,127.85 562.88,170.05 624.88,204.19" fill="none" stroke="#c0303a" stroke-width="1.25" stroke-linejoin="round"/>
<circle cx="439.40" cy="234.30" r="1.45" fill="#fff" stroke="#c0303a" stroke-width="0.8"/>
<circle cx="440.69" cy="78.36" r="1.45" fill="#fff" stroke="#c0303a" stroke-width="0.8"/>
<circle cx="441.98" cy="60.85" r="1.45" fill="#fff" stroke="#c0303a" stroke-width="0.8"/>
<circle cx="443.27" cy="53.73" r="1.45" fill="#fff" stroke="#c0303a" stroke-width="0.8"/>
<circle cx="444.57" cy="49.33" r="1.45" fill="#fff" stroke="#c0303a" stroke-width="0.8"/>
<circle cx="445.86" cy="47.44" r="1.45" fill="#fff" stroke="#c0303a" stroke-width="0.8"/>
<circle cx="447.15" cy="48.14" r="1.45" fill="#fff" stroke="#c0303a" stroke-width="0.8"/>
<circle cx="449.73" cy="49.05" r="1.45" fill="#fff" stroke="#c0303a" stroke-width="0.8"/>
<circle cx="451.02" cy="46.49" r="1.45" fill="#fff" stroke="#c0303a" stroke-width="0.8"/>
<circle cx="452.32" cy="54.71" r="1.45" fill="#fff" stroke="#c0303a" stroke-width="0.8"/>
<circle cx="453.61" cy="59.39" r="1.45" fill="#fff" stroke="#c0303a" stroke-width="0.8"/>
<circle cx="454.90" cy="62.96" r="1.45" fill="#fff" stroke="#c0303a" stroke-width="0.8"/>
<circle cx="457.48" cy="69.25" r="1.45" fill="#fff" stroke="#c0303a" stroke-width="0.8"/>
<circle cx="460.06" cy="76.04" r="1.45" fill="#fff" stroke="#c0303a" stroke-width="0.8"/>
<circle cx="465.23" cy="81.41" r="1.45" fill="#fff" stroke="#c0303a" stroke-width="0.8"/>
<circle cx="470.40" cy="98.05" r="1.45" fill="#fff" stroke="#c0303a" stroke-width="0.8"/>
<circle cx="501.39" cy="127.85" r="1.45" fill="#fff" stroke="#c0303a" stroke-width="0.8"/>
<circle cx="563.38" cy="170.05" r="1.45" fill="#fff" stroke="#c0303a" stroke-width="0.8"/>
<circle cx="625.38" cy="204.19" r="1.45" fill="#fff" stroke="#c0303a" stroke-width="0.8"/>
<circle cx="437.30" cy="234.30" r="1.7" fill="#000"/>
<circle cx="438.59" cy="79.35" r="1.7" fill="#000"/>
<circle cx="439.88" cy="60.31" r="1.7" fill="#000"/>
<circle cx="441.17" cy="52.99" r="1.7" fill="#000"/>
<circle cx="442.47" cy="50.08" r="1.7" fill="#000"/>
<circle cx="443.76" cy="48.32" r="1.7" fill="#000"/>
<circle cx="445.05" cy="47.88" r="1.7" fill="#000"/>
<circle cx="447.63" cy="49.70" r="1.7" fill="#000"/>
<circle cx="448.92" cy="47.09" r="1.7" fill="#000"/>
<circle cx="450.22" cy="54.94" r="1.7" fill="#000"/>
<circle cx="451.51" cy="59.78" r="1.7" fill="#000"/>
<circle cx="452.80" cy="63.40" r="1.7" fill="#000"/>
<circle cx="455.38" cy="69.97" r="1.7" fill="#000"/>
<circle cx="457.96" cy="76.95" r="1.7" fill="#000"/>
<circle cx="463.13" cy="82.22" r="1.7" fill="#000"/>
<circle cx="468.30" cy="98.51" r="1.7" fill="#000"/>
<circle cx="499.29" cy="128.22" r="1.7" fill="#000"/>
<circle cx="561.28" cy="170.30" r="1.7" fill="#000"/>
<circle cx="623.28" cy="204.50" r="1.7" fill="#000"/>
<line x1="428.55" y1="31.2" x2="428.55" y2="234.9" stroke="#444" stroke-width="1.2"/>
<line x1="427.95" y1="234.3" x2="637.6" y2="234.3" stroke="#444" stroke-width="1.2"/>
<line x1="426.05" y1="225.60" x2="428.55" y2="225.60" stroke="#333" stroke-width="1"/>
<text x="423.95" y="229.00" text-anchor="end" class="tk">0.1</text>
<line x1="426.05" y1="155.50" x2="428.55" y2="155.50" stroke="#333" stroke-width="1"/>
<text x="423.95" y="158.90" text-anchor="end" class="tk">1.0</text>
<line x1="426.05" y1="85.40" x2="428.55" y2="85.40" stroke="#333" stroke-width="1"/>
<text x="423.95" y="88.80" text-anchor="end" class="tk">10.0</text>
<line x1="438.30" y1="234.3" x2="438.30" y2="236.8" stroke="#333" stroke-width="1"/>
<text x="438.30" y="245.0" text-anchor="middle" class="tk">0</text>
<line x1="448.63" y1="234.3" x2="448.63" y2="236.8" stroke="#333" stroke-width="1"/>
<text x="448.63" y="245.0" text-anchor="middle" class="tk">4</text>
<line x1="458.96" y1="234.3" x2="458.96" y2="236.8" stroke="#333" stroke-width="1"/>
<text x="458.96" y="245.0" text-anchor="middle" class="tk">8</text>
<line x1="469.30" y1="234.3" x2="469.30" y2="236.8" stroke="#333" stroke-width="1"/>
<text x="469.30" y="245.0" text-anchor="middle" class="tk">12</text>
<line x1="500.29" y1="234.3" x2="500.29" y2="236.8" stroke="#333" stroke-width="1"/>
<text x="500.29" y="245.0" text-anchor="middle" class="tk">24</text>
<line x1="562.28" y1="234.3" x2="562.28" y2="236.8" stroke="#333" stroke-width="1"/>
<text x="562.28" y="245.0" text-anchor="middle" class="tk">48</text>
<line x1="624.28" y1="234.3" x2="624.28" y2="236.8" stroke="#333" stroke-width="1"/>
<text x="624.28" y="245.0" text-anchor="middle" class="tk">72</text>
<line x1="103.7" y1="22.8" x2="116.3" y2="22.8" stroke="#3a3a3a" stroke-width="1.2"/>
<circle cx="110.0" cy="22.8" r="1.85" fill="#000"/>
<text x="120.0" y="25.5" class="lg">Coadministration of rosuvastatin 20 mg/ezetimibe 10 mg</text>
<line x1="103.7" y1="38.7" x2="116.3" y2="38.7" stroke="#cc3f4a" stroke-width="0.95"/>
<circle cx="110.0" cy="38.7" r="1.75" fill="#fff" stroke="#c4303c" stroke-width="0.9"/>
<text x="120.0" y="41.400000000000006" class="lg">FDC tablet (rosuvastatin 20 mg/ezetimibe 10 mg)</text>
<line x1="460.4" y1="23.0" x2="473.0" y2="23.0" stroke="#3a3a3a" stroke-width="1.2"/>
<circle cx="466.7" cy="23.0" r="1.85" fill="#000"/>
<text x="476.7" y="25.7" class="lg">Coadministration of rosuvastatin 20 mg/ezetimibe 10 mg</text>
<line x1="460.4" y1="38.8" x2="473.0" y2="38.8" stroke="#cc3f4a" stroke-width="0.95"/>
<circle cx="466.7" cy="38.8" r="1.75" fill="#fff" stroke="#c4303c" stroke-width="0.9"/>
<text x="476.7" y="41.5" class="lg">FDC tablet (rosuvastatin 20 mg/ezetimibe 10 mg)</text>
<text x="179.2" y="257.8" text-anchor="middle" class="at">Time (h)</text>
<text x="533.3" y="257.8" text-anchor="middle" class="at">Time (h)</text>
<text transform="translate(51.0,132.45) rotate(-90)" text-anchor="middle" class="at">Plasma concentration of rosuvastatin (ug/L)</text>
<text transform="translate(403.2,132.6) rotate(-90)" text-anchor="middle" class="at">Plasma concentration of rosuvastatin (ug/L)</text>
<text x="13.2" y="23.5" class="pl" textLength="19.2" lengthAdjust="spacingAndGlyphs">(A)</text>
<text x="365.4" y="23.5" class="pl" textLength="17.4" lengthAdjust="spacingAndGlyphs">(B)</text>
</svg>
</body></html>
